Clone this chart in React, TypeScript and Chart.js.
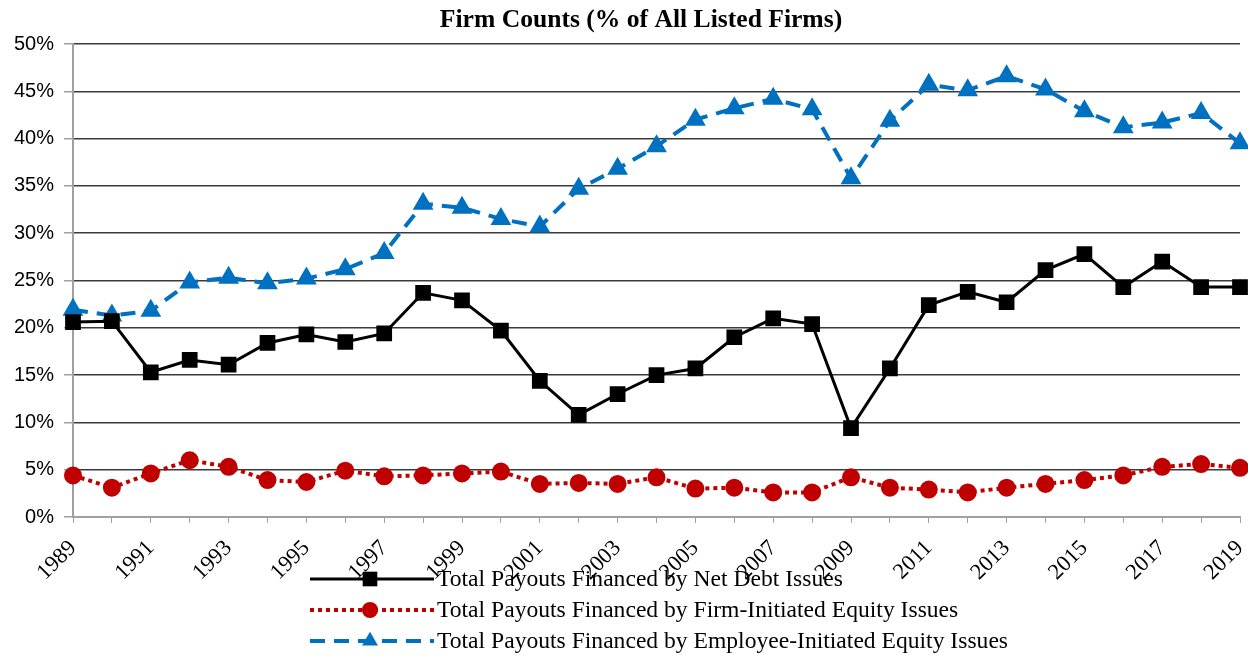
import React, { useEffect, useRef } from "react";
import { Chart, registerables } from "chart.js";

Chart.register(...registerables);

const chartTitle = "Firm Counts (% of All Listed Firms)";

const years = [
  "1989", "1990", "1991", "1992", "1993", "1994", "1995", "1996", "1997", "1998",
  "1999", "2000", "2001", "2002", "2003", "2004", "2005", "2006", "2007", "2008",
  "2009", "2010", "2011", "2012", "2013", "2014", "2015", "2016", "2017", "2018", "2019",
];

const netDebt = [
  20.6, 20.7, 15.3, 16.6, 16.1, 18.4, 19.3, 18.5, 19.4, 23.7,
  22.9, 19.7, 14.4, 10.8, 13.0, 15.0, 15.7, 19.0, 21.0, 20.4,
  9.4, 15.7, 22.4, 23.8, 22.7, 26.1, 27.8, 24.3, 27.0, 24.3, 24.3,
];

const firmEquity = [
  4.4, 3.1, 4.6, 6.0, 5.3, 3.9, 3.7, 4.9, 4.3, 4.4,
  4.6, 4.8, 3.5, 3.6, 3.5, 4.2, 3.0, 3.1, 2.6, 2.6,
  4.2, 3.1, 2.9, 2.6, 3.1, 3.5, 3.9, 4.4, 5.3, 5.6, 5.2,
];

const employeeEquity = [
  21.9, 21.3, 21.8, 24.8, 25.3, 24.7, 25.2, 26.2, 27.9, 33.1,
  32.7, 31.5, 30.7, 34.7, 36.8, 39.2, 42.0, 43.2, 44.2, 43.1,
  35.8, 41.9, 45.7, 45.1, 46.6, 45.2, 42.9, 41.2, 41.7, 42.7, 39.5,
];

const seriesLabels = [
  "Total Payouts Financed by Net Debt Issues",
  "Total Payouts Financed by Firm-Initiated Equity Issues",
  "Total Payouts Financed by Employee-Initiated Equity Issues",
];

const legendPlugin = {
  id: "customLegend",
  afterDraw(chart: any) {
    const ctx = chart.ctx;
    ctx.save();
    ctx.fillStyle = "#000";
    ctx.font = "bold 25.6px 'Liberation Serif'";
    ctx.textAlign = "center";
    ctx.textBaseline = "middle";
    ctx.fillText(chartTitle, 641, 20);
    ctx.restore();

    const rows = [579, 610, 641];
    const x0 = 310;
    const x1 = 434;
    const mx = 370;
    chart.data.datasets.forEach((ds: any, i: number) => {
      const y = rows[i];
      ctx.save();
      ctx.strokeStyle = ds.borderColor;
      ctx.lineWidth = ds.borderWidth;
      ctx.setLineDash(ds.borderDash || []);
      ctx.beginPath();
      ctx.moveTo(x0, y);
      ctx.lineTo(x1, y);
      ctx.stroke();
      ctx.setLineDash([]);
      ctx.fillStyle = ds.pointBackgroundColor;
      const r = ds.pointRadius * 1.15;
      ctx.beginPath();
      if (ds.pointStyle === "rect") {
        const s = Math.SQRT1_2 * r;
        ctx.rect(mx - s, y - s, 2 * s, 2 * s);
      } else if (ds.pointStyle === "triangle") {
        ctx.moveTo(mx, y - r);
        ctx.lineTo(mx + r * Math.sin(Math.PI * 2 / 3), y - r * Math.cos(Math.PI * 2 / 3));
        ctx.lineTo(mx - r * Math.sin(Math.PI * 2 / 3), y - r * Math.cos(Math.PI * 2 / 3));
        ctx.closePath();
      } else {
        ctx.arc(mx, y, r, 0, Math.PI * 2);
      }
      ctx.fill();
      ctx.fillStyle = "#000";
      ctx.font = "23.6px 'Liberation Serif'";
      ctx.textAlign = "left";
      ctx.textBaseline = "middle";
      ctx.fillText(ds.label, 437, y + 1);
      ctx.restore();
    });
  },
};

export default function App() {
  const ref = useRef<HTMLCanvasElement>(null);

  useEffect(() => {
    if (!ref.current) return;
    const chart = new Chart(ref.current, {
      type: "line",
      data: {
        labels: years,
        datasets: [
          {
            label: seriesLabels[0],
            data: netDebt,
            borderColor: "#000000",
            backgroundColor: "#000000",
            borderWidth: 3,
            pointStyle: "rect",
            pointRadius: 9,
            pointBackgroundColor: "#000000",
            pointBorderColor: "#000000",
            tension: 0,
          },
          {
            label: seriesLabels[1],
            data: firmEquity,
            borderColor: "#c00000",
            backgroundColor: "#c00000",
            borderWidth: 4,
            borderDash: [4, 4],
            pointStyle: "circle",
            pointRadius: 7,
            pointBackgroundColor: "#c00000",
            pointBorderColor: "#c00000",
            tension: 0,
          },
          {
            label: seriesLabels[2],
            data: employeeEquity,
            borderColor: "#0070c0",
            backgroundColor: "#0070c0",
            borderWidth: 4,
            borderDash: [15, 9],
            pointStyle: "triangle",
            pointRadius: 8,
            pointBackgroundColor: "#0070c0",
            pointBorderColor: "#0070c0",
            tension: 0,
          },
        ],
      },
      options: {
        responsive: false,
        animation: false,
        devicePixelRatio: 1,
        layout: { autoPadding: false, padding: { left: 0, right: 8, top: 44, bottom: 0 } },
        plugins: {
          legend: { display: false },
          tooltip: { enabled: false },
          title: { display: false },
        },
        scales: {
          x: {
            offset: false,
            grid: {
              drawOnChartArea: false,
              drawTicks: true,
              tickLength: 6,
              tickColor: "#a0a0a0",
              color: "#a0a0a0",
            },
            border: { color: "#a0a0a0", width: 2 },
            ticks: {
              autoSkip: false,
              minRotation: 45,
              maxRotation: 45,
              padding: 12,
              color: "#000",
              font: { family: "'Liberation Serif'", size: 22.5 },
              callback: (_v: any, i: number) => (i % 2 === 0 ? years[i] : ""),
            },
            afterFit: (scale: any) => {
              scale.height = 143;
              scale.paddingRight = 0;
              scale.paddingLeft = 0;
            },
          },
          y: {
            min: 0,
            max: 50,
            grid: {
              color: (c: any) => (c.index === 0 ? "#a0a0a0" : "#3a3a3a"),
              lineWidth: 1.5,
              tickColor: "#a0a0a0",
              tickLength: 9,
            },
            border: { color: "#a0a0a0", width: 2 },
            ticks: {
              stepSize: 5,
              padding: 10,
              color: "#000",
              font: { family: "'Liberation Sans'", size: 20 },
              callback: (v: any) => v + "%",
            },
            afterFit: (scale: any) => {
              scale.width = 73;
              scale.paddingTop = 0;
              scale.paddingBottom = 0;
            },
          },
        },
      },
      plugins: [legendPlugin],
    });
    return () => chart.destroy();
  }, []);

  return (
    <div style={{ position: "absolute", left: 0, top: 0, width: 1248, height: 660, background: "#fff" }}>
      <canvas ref={ref} width={1248} height={660} />
    </div>
  );
}
